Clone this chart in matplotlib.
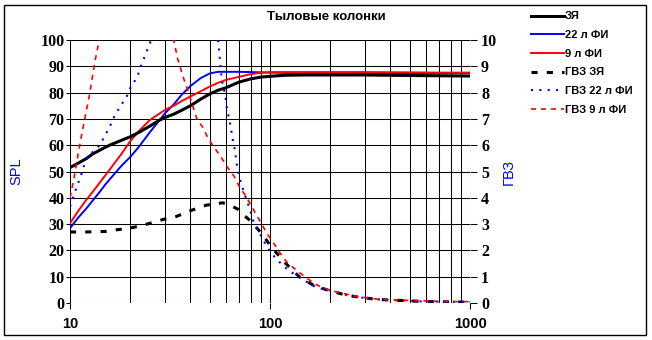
import matplotlib
matplotlib.use("Agg")
import matplotlib.pyplot as plt
from matplotlib.patches import Rectangle

plt.rcParams['font.family'] = ['Liberation Sans', 'DejaVu Sans']

# SPL curves, dB
freq = [10, 11, 12, 13, 14, 15, 16, 18, 20, 22, 25, 28, 30, 33, 36, 40, 45,
        50, 55, 60, 70, 80, 90, 100, 120, 150, 200, 300, 500, 700, 1000]
spl_closed = [51.5, 53.2, 54.8, 56.7, 58.0, 59.2, 60.2, 61.8, 63.2, 64.8, 67.2,
              69.5, 70.6, 71.8, 73.2, 75.0, 77.5, 79.5, 80.9, 81.8, 84.0, 85.2,
              85.9, 86.2, 86.6, 86.7, 86.7, 86.7, 86.5, 86.4, 86.3]
spl_22 = [28.4, 32.5, 35.7, 39.0, 42.0, 45.0, 47.5, 52.0, 55.5, 59.2, 64.8,
          69.5, 72.3, 75.5, 79.0, 82.5, 85.5, 87.3, 87.9, 87.9, 87.9, 87.8,
          87.7, 87.6, 87.5, 87.5, 87.5, 87.5, 87.4, 87.4, 87.4]
spl_9 = [30.3, 35.0, 39.0, 42.3, 45.5, 48.5, 51.3, 56.5, 61.5, 65.2, 69.5,
         72.0, 73.5, 75.0, 76.7, 78.5, 80.5, 82.3, 83.7, 84.8, 86.0, 87.0,
         87.5, 87.8, 87.8, 87.8, 87.8, 87.8, 87.7, 87.6, 87.6]

# group delay, ms
gd_closed_f = [10, 12, 15, 17, 20, 23, 27, 30, 34, 40, 48, 58, 63, 69, 75, 80,
               86, 92, 100, 104, 120, 140, 167, 200, 240, 280, 340, 400, 480,
               570, 680, 820, 1000]
gd_closed = [2.70, 2.70, 2.72, 2.78, 2.85, 2.95, 3.10, 3.20, 3.29, 3.51, 3.72,
             3.81, 3.72, 3.57, 3.30, 3.12, 2.85, 2.59, 2.20, 2.04, 1.50, 1.00,
             0.65, 0.46, 0.30, 0.22, 0.14, 0.11, 0.09, 0.06, 0.05, 0.04, 0.03]

gd_22_f = [10, 10.4, 10.8, 11.3, 11.7, 12.25, 14.1, 15.8, 16.8, 17.8, 19.2,
           20.1, 21.7, 22.6, 23.7, 24.8, 26, 30, 40, 50, 55, 56.2, 57.4, 59.6,
           61, 62.7, 65.2, 66.8, 68.1, 69.4, 71.1, 74, 77, 80, 83, 88, 93, 100,
           109, 122, 138, 155, 172, 196, 242, 276, 340, 400, 480, 570, 700, 1000]
gd_22 = [3.67, 4.04, 4.42, 4.80, 5.18, 5.56, 6.00, 6.70, 7.15, 7.46, 7.85,
         8.20, 8.60, 9.00, 9.40, 9.77, 10.2, 12.0, 15.0, 12.0, 10.0, 9.24,
         8.48, 7.95, 7.35, 6.96, 6.20, 5.80, 5.30, 5.00, 4.65, 4.23, 3.85,
         3.47, 3.05, 2.71, 2.36, 1.95, 1.63, 1.28, 1.00, 0.77, 0.58, 0.49,
         0.30, 0.22, 0.14, 0.11, 0.09, 0.06, 0.05, 0.04]

gd_9_f = [10, 10.5, 11, 11.5, 12, 12.5, 13, 13.5, 14, 16, 20, 25, 30, 33, 34.5,
          37, 39, 43, 46.5, 49, 53, 57, 61, 66, 70, 75, 80, 85, 91, 96, 104,
          112, 122, 137, 153, 172, 194, 217, 244, 276, 310, 350, 440, 550, 700,
          1000]
gd_9 = [4.0, 4.8, 5.7, 6.5, 7.2, 7.9, 8.7, 9.4, 10.0, 12.0, 14.0, 13.5, 11.5,
        10.0, 9.30, 8.54, 8.04, 7.02, 6.64, 6.26, 5.88, 5.54, 5.18, 4.83, 4.45,
        4.11, 3.75, 3.38, 3.00, 2.67, 2.29, 1.91, 1.53, 1.22, 0.94, 0.68, 0.52,
        0.41, 0.33, 0.24, 0.19, 0.14, 0.11, 0.09, 0.06, 0.05]

labels = ['ЗЯ', '22 л ФИ', '9 л ФИ', 'ГВЗ ЗЯ', 'ГВЗ 22 л ФИ', 'ГВЗ 9 л ФИ']

fig = plt.figure(figsize=(6.52, 3.4), dpi=100)
ax = fig.add_axes([70 / 652, 37 / 340, 400 / 652, 263 / 340])
ax2 = ax.twinx()

ax.set_xscale('log')
ax.set_xlim(10, 1000)
ax.set_ylim(0, 100)
ax.set_yticks(range(0, 101, 10))
ax.set_xticks([10, 100, 1000])
ax.set_xticklabels(['10', '100', '1000'])
ax.grid(True, which='both', color='black', lw=0.75)
ax.tick_params(axis='x', which='minor', length=0)
ax.tick_params(axis='x', which='major', length=4, width=0.75, labelsize=10.5,
               pad=6)
ax.tick_params(axis='y', length=3, width=0.75, labelsize=11.5, pad=1)
for s in list(ax.spines.values()) + list(ax2.spines.values()):
    s.set_visible(False)
ax.set_axisbelow(True)

ax2.set_ylim(0, 10)
ax2.set_yticks(range(0, 11))
ax2.tick_params(axis='y', length=5, width=0.75, labelsize=11.5, pad=3)

# serif bold numbers on both value axes, sans bold on the frequency axis
for t in ax.get_yticklabels() + ax2.get_yticklabels():
    t.set_fontfamily('Liberation Serif')
    t.set_fontweight('bold')
for t in ax.get_xticklabels():
    t.set_fontweight('bold')

ax.set_ylabel('SPL', color='blue', fontsize=10.5)
ax.yaxis.set_label_coords(-0.1175, 0.5)
ax2.set_ylabel('ГВЗ', color='blue', fontsize=10.5)
ax2.yaxis.set_label_coords(1.08, 0.5)

l1, = ax.plot(freq, spl_closed, color='black', lw=2.2, zorder=4)
l2, = ax.plot(freq, spl_22, color='blue', lw=1.4, zorder=3)
l3, = ax.plot(freq, spl_9, color='red', lw=1.4, zorder=3)

l4, = ax2.plot(gd_closed_f, gd_closed, color='black', lw=2.2, dashes=(2, 3))
l5, = ax2.plot(gd_22_f, gd_22, color='blue', lw=1.5, dashes=(1, 3))
l6, = ax2.plot(gd_9_f, gd_9, color='red', lw=1.2, dashes=(3, 3))

fig.text(0.5, 1 - 17 / 340, 'Тыловые колонки', ha='center', va='center',
         fontsize=9.5, fontweight='bold')

fig.legend([l1, l2, l3, l4, l5, l6], labels, loc='upper left',
           bbox_to_anchor=(527 / 652, 1 - 7 / 340), frameon=False,
           prop={'size': 8, 'weight': 'bold'}, handlelength=2.9,
           handletextpad=0.1, labelspacing=0.78, borderaxespad=0)

fig.patches.append(Rectangle((4 / 652, 5 / 340), 642 / 652, 330 / 340,
                             transform=fig.transFigure, fill=False,
                             edgecolor='black', lw=1))

fig.savefig('out.png', dpi=100)
